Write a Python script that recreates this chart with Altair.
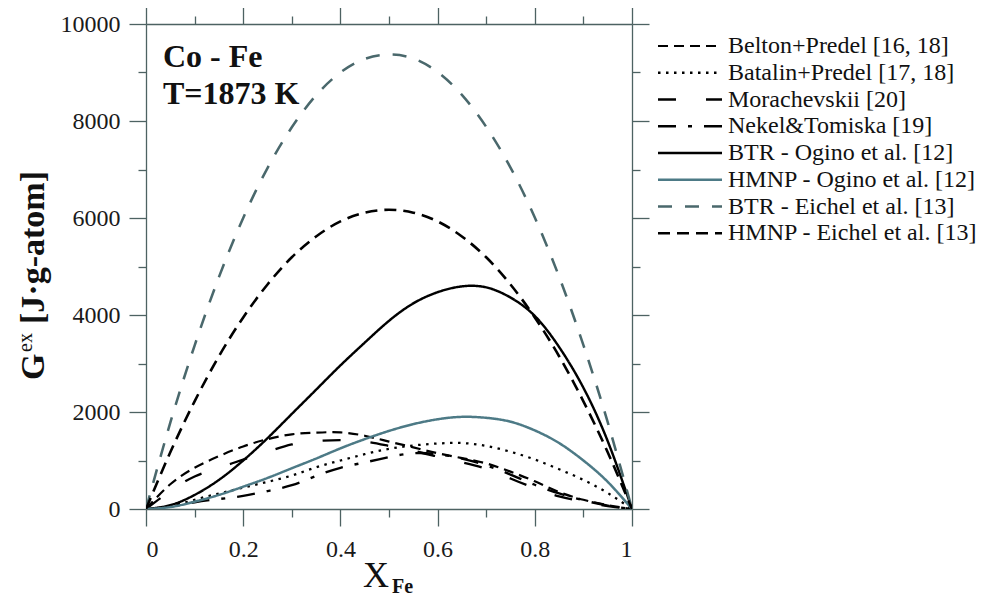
import altair as alt
import pandas as pd

# ---------------- data ----------------
x_fe = [0.0, 0.05, 0.1, 0.15, 0.2, 0.25, 0.3, 0.35, 0.4, 0.45, 0.5,
        0.55, 0.6, 0.65, 0.7, 0.75, 0.8, 0.85, 0.9, 0.95, 1.0]

belton = [0, 510, 850, 1090, 1290, 1440, 1540, 1575, 1580, 1510, 1390,
          1270, 1150, 1050, 940, 770, 570, 350, 190, 80, 0]
batalin = [0, 60, 190, 320, 440, 560, 690, 860, 1000, 1130, 1240,
           1310, 1350, 1360, 1300, 1180, 1020, 820, 600, 330, 0]
morachevskii = [0, 370, 670, 850, 1020, 1180, 1330, 1400, 1420, 1390, 1300,
                1200, 1080, 960, 830, 630, 430, 260, 150, 60, 0]
nekel = [0, 50, 140, 205, 270, 370, 490, 680, 850, 960, 1070,
         1150, 1130, 1040, 900, 710, 500, 320, 180, 70, 0]
btr_ogino = [0, 80, 290, 600, 1000, 1460, 1960, 2460, 2960, 3430, 3880,
             4240, 4470, 4590, 4570, 4360, 3980, 3340, 2500, 1400, 0]
hmnp_ogino = [0, 40, 150, 290, 460, 640, 840, 1040, 1250, 1440, 1610,
              1750, 1850, 1900, 1880, 1800, 1620, 1360, 1000, 560, 0]
btr_eichel = [0, 1780, 3370, 4780, 6000, 7030, 7870, 8530, 9000, 9280, 9370,
              9290, 9010, 8540, 7880, 7040, 6010, 4790, 3380, 1790, 0]
hmnp_eichel = [0, 1170, 2220, 3150, 3950, 4630, 5190, 5620, 5930, 6110, 6170,
               6110, 5930, 5620, 5190, 4630, 3950, 3150, 2220, 1170, 0]

series_names = ["Belton+Predel [16, 18]", "Batalin+Predel [17, 18]",
                "Morachevskii [20]", "Nekel&Tomiska [19]",
                "BTR - Ogino et al. [12]", "HMNP - Ogino et al. [12]",
                "BTR - Eichel et al. [13]", "HMNP - Eichel et al. [13]"]
series_values = [belton, batalin, morachevskii, nekel,
                 btr_ogino, hmnp_ogino, btr_eichel, hmnp_eichel]

x_major = [0, 0.2, 0.4, 0.6, 0.8, 1]
x_minor = [0.1, 0.3, 0.5, 0.7, 0.9]
y_major = [0, 2000, 4000, 6000, 8000, 10000]
y_minor = [1000, 3000, 5000, 7000, 9000]

annotation_lines = ["Co - Fe", "T=1873 K"]

# ---------------- styles ----------------
FRAME = "#4d6262"
FONT = "Liberation Serif"
dashes = [[10, 6], [2.5, 5.5], [18, 30], [18, 12, 4, 12],
          [1, 0], [1, 0], [14, 13], [12, 7]]
widths = [2.2, 2.6, 2.2, 2.2, 2.5, 0.9, 0.9, 2.5]
colors = ["#000000", "#000000", "#000000", "#000000",
          "#000000", "#4d7a86", "#4a686c", "#000000"]

rows = []
for name, vals in zip(series_names, series_values):
    for xv, gv in zip(x_fe, vals):
        rows.append({"series": name, "x": xv, "g": gv})
df = pd.DataFrame(rows)

xs = alt.Scale(domain=[0, 1], nice=False, zero=False)
ys = alt.Scale(domain=[0, 10000], nice=False)
col = alt.Color("series:N", scale=alt.Scale(domain=series_names, range=colors), legend=None)
dsh = alt.StrokeDash("series:N", scale=alt.Scale(domain=series_names, range=dashes), legend=None)
wid = alt.StrokeWidth("series:N", scale=alt.Scale(domain=series_names, range=widths), legend=None)

AX = dict(domainColor=FRAME, tickColor=FRAME, domainWidth=1.3, tickWidth=1.3,
          grid=False, title=None, labelFont=FONT, labelFontSize=24,
          labelColor="#1a1a1a")

lines = alt.Chart(df).mark_line(interpolate="natural", clip=True).encode(
    x=alt.X("x:Q", scale=xs, axis=alt.Axis(orient="bottom", values=x_major, format="~g",
                                           tickSize=17, labelPadding=11, **AX)),
    y=alt.Y("g:Q", scale=ys, axis=alt.Axis(orient="left", values=y_major, format="d",
                                           tickSize=17, labelPadding=9, **AX)),
    color=col, strokeDash=dsh, strokeWidth=wid,
    order=alt.Order("x:Q"),
)

frame_df = pd.DataFrame({"x": [0, 1], "g": [0, 10000]})


def frame(xaxis, yaxis):
    return alt.Chart(frame_df).mark_point(opacity=0).encode(
        x=alt.X("x:Q", scale=xs, axis=xaxis),
        y=alt.Y("g:Q", scale=ys, axis=yaxis),
    )


NOL = dict(domainColor=FRAME, tickColor=FRAME, domainWidth=1.3, tickWidth=1.3,
           grid=False, title=None, labels=False)
top_right = frame(alt.Axis(orient="top", values=x_major, tickSize=17, **NOL),
                  alt.Axis(orient="right", values=y_major, tickSize=17, **NOL))
minor_bl = frame(alt.Axis(orient="bottom", values=x_minor, tickSize=8, domain=False, **NOL),
                 alt.Axis(orient="left", values=y_minor, tickSize=8, domain=False, **NOL))
minor_tr = frame(alt.Axis(orient="top", values=x_minor, tickSize=8, domain=False, **NOL),
                 alt.Axis(orient="right", values=y_minor, tickSize=8, domain=False, **NOL))

# ---------------- legend ----------------
leg_df = pd.DataFrame({"series": series_names, "row": list(range(len(series_names)))})
leg_base = alt.Chart(leg_df).transform_calculate(ly="22 + 26.75 * datum.row")
leg_lines = leg_base.mark_rule().encode(
    x=alt.value(512), x2=alt.value(576),
    y=alt.Y("ly:Q", scale=None, axis=None),
    color=col, strokeDash=dsh, strokeWidth=wid,
)
leg_text = leg_base.mark_text(align="left", baseline="middle", font=FONT,
                              fontSize=24, color="#111").encode(
    x=alt.value(582), y=alt.Y("ly:Q", scale=None, axis=None), text="series:N",
)

# ---------------- annotations and titles ----------------
ann_df = pd.DataFrame({"t": annotation_lines, "row": [0, 1]})
ann = alt.Chart(ann_df).transform_calculate(ay="43 + 36.5 * datum.row").mark_text(
    align="left", baseline="alphabetic", font=FONT, fontSize=32, fontWeight="bold",
    color="#111").encode(x=alt.value(17), y=alt.Y("ay:Q", scale=None, axis=None), text="t:N")

title_df = pd.DataFrame({"k": [0]})
tb = alt.Chart(title_df)
yt_g = tb.mark_text(angle=270, align="left", baseline="alphabetic", font=FONT, fontSize=34,
                    fontWeight="bold", color="#111").encode(
    x=alt.value(-102), y=alt.value(356), text=alt.value("G"))
yt_ex = tb.mark_text(angle=270, align="left", baseline="alphabetic", font=FONT, fontSize=20,
                     color="#111").encode(
    x=alt.value(-114), y=alt.value(328), text=alt.value("ex"))
yt_rest = tb.mark_text(angle=270, align="left", baseline="alphabetic", font=FONT, fontSize=34,
                       fontWeight="bold", color="#111").encode(
    x=alt.value(-102), y=alt.value(300), text=alt.value("[J·g-atom]"))
xt_x = tb.mark_text(align="left", baseline="alphabetic", font=FONT, fontSize=36,
                    color="#111").encode(
    x=alt.value(217), y=alt.value(563), text=alt.value("X"))
xt_fe = tb.mark_text(align="left", baseline="alphabetic", font=FONT, fontSize=20,
                     fontWeight="bold", color="#111").encode(
    x=alt.value(246), y=alt.value(569), text=alt.value("Fe"))

chart = alt.layer(
    lines, top_right, minor_bl, minor_tr, leg_lines, leg_text, ann,
    yt_g, yt_ex, yt_rest, xt_x, xt_fe,
).resolve_axis(x="independent", y="independent").properties(
    width=486, height=485,
    autosize=alt.AutoSizeParams(type="none"),
    padding={"left": 138, "top": 16, "right": 348, "bottom": 87},
    background="white",
).configure_view(stroke=None)

chart.save("out.html", embed_options={"renderer": "svg", "actions": False})
